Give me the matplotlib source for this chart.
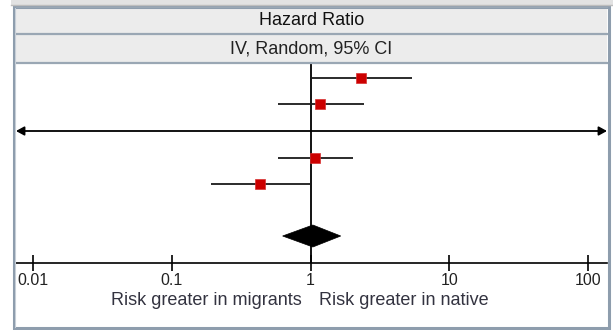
import numpy as np
import matplotlib
matplotlib.use("Agg")
import matplotlib.pyplot as plt
from matplotlib.patches import Rectangle, Polygon

plt.rcParams.update({
    "font.family": ["Liberation Sans", "DejaVu Sans"],
    "font.size": 12,
})

# ------------------------------------------------------------
# data
# ------------------------------------------------------------
hr = [2.31, 1.18, np.nan, 1.08, 0.436]       # point estimates
ci_low = [1.00, 0.587, 0.005, 0.587, 0.192]   # lower 95% CI
ci_high = [5.36, 2.43, 200.0, 2.03, 1.00]     # upper 95% CI
pooled = [0.63, 1.04, 1.65]                   # low, estimate, high
tick_vals = [0.01, 0.1, 1, 10, 100]
tick_labels = ["0.01", "0.1", "1", "10", "100"]
header_1 = "Hazard Ratio"
header_2 = "IV, Random, 95% CI"
label_left = "Risk greater in migrants"
label_right = "Risk greater in native"

W, H = 613, 330
fig = plt.figure(figsize=(W / 100, H / 100), dpi=100)


def fx(px):
    return px / W


def fy(py):
    return 1 - py / H


frame_col = "#8e9dad"
head_fill = "#ececec"
sep_col = "#9aa7b4"

# top light strip
fig.add_artist(Rectangle((fx(11), fy(5)), fx(W - 11), 5 / H,
                         transform=fig.transFigure, facecolor="#e2e2e2",
                         edgecolor="none"))
fig.add_artist(plt.Line2D([fx(11), 1], [fy(4.5), fy(4.5)],
                          transform=fig.transFigure, color="#bdbdbd", lw=1))

# header rows
fig.add_artist(Rectangle((fx(16), fy(62)), fx(607 - 16), 55 / H,
                         transform=fig.transFigure, facecolor=head_fill,
                         edgecolor="none"))
for yy in (7, 34, 62.5):
    fig.add_artist(plt.Line2D([fx(16), fx(607)], [fy(yy), fy(yy)],
                              transform=fig.transFigure, color=sep_col,
                              lw=1.6 if yy > 8 else 0.8))
fig.text(fx(311.5), fy(20.5), header_1, ha="center", va="center",
         fontsize=13, color="#111111")
fig.text(fx(311.5), fy(48.5), header_2, ha="center", va="center",
         fontsize=13, color="#222222")

# outer frame
fig.add_artist(Rectangle((fx(14), fy(328)), fx(608.5 - 14), (328 - 6.5) / H,
                         transform=fig.transFigure, facecolor="none",
                         edgecolor=frame_col, lw=2.2))
fig.add_artist(plt.Line2D([fx(15.3), fx(15.3)], [fy(8), fy(327)],
                          transform=fig.transFigure, color="#c9d1d9", lw=0.7))

# ------------------------------------------------------------
# forest plot axes
# ------------------------------------------------------------
row_px = 26.65
y_top = (63 - 77.7) / row_px
y_bot = (327 - 77.7) / row_px
y_diamond = (236 - 77.7) / row_px
y_axis = (263 - 77.7) / row_px

ax = fig.add_axes([fx(16), fy(327), fx(607 - 16), (327 - 63) / H])
ax.set_xscale("log")
ax.set_xlim(0.0076, 136)
ax.set_ylim(y_bot, y_top)
ax.patch.set_alpha(0)

for side in ("left", "right", "top"):
    ax.spines[side].set_visible(False)
ax.spines["bottom"].set_position(("data", y_axis))
ax.spines["bottom"].set_linewidth(1.2)
ax.yaxis.set_visible(False)
ax.set_xticks(tick_vals)
ax.set_xticklabels(tick_labels)
ax.xaxis.set_minor_locator(matplotlib.ticker.NullLocator())
ax.tick_params(axis="x", direction="inout", length=11, width=1.2,
               pad=1.5, labelsize=11.5, labelcolor="#222222")

# line of no effect
ax.vlines(1, y_top, y_axis, color="black", lw=1.3)

xmin, xmax = ax.get_xlim()
for i in range(len(hr)):
    lo, hi = ci_low[i], ci_high[i]
    if lo < xmin or hi > xmax:
        # interval runs off the scale: draw it with arrow heads
        ax.annotate("", xy=(min(hi, xmax), i), xytext=(max(lo, xmin), i),
                    arrowprops=dict(arrowstyle="<|-|>,head_length=0.4,head_width=0.22",
                                    color="black", lw=1.3,
                                    shrinkA=0, shrinkB=0))
    else:
        ax.plot([lo, hi], [i, i], color="#1a1a1a", lw=1.3,
                solid_capstyle="butt")
    if not np.isnan(hr[i]):
        ax.plot(hr[i], i, marker="s", ms=6.8, color="#cc0000",
                mec="#d83030", mew=0.5, zorder=3)

# pooled diamond
d_h = 11 / row_px
ax.add_patch(Polygon([(pooled[0], y_diamond), (pooled[1], y_diamond - d_h),
                      (pooled[2], y_diamond), (pooled[1], y_diamond + d_h)],
                     closed=True, facecolor="black", edgecolor="black",
                     lw=0.5, zorder=3))

# direction labels
fig.text(fx(302), fy(300.5), label_left, ha="right", va="center",
         fontsize=13, color="#333340")
fig.text(fx(319), fy(300.5), label_right, ha="left", va="center",
         fontsize=13, color="#333340")

fig.savefig("out.png", dpi=100)
